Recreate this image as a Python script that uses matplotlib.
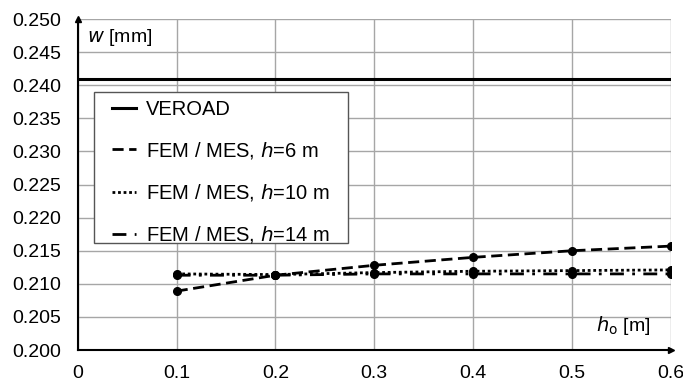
import matplotlib
matplotlib.use("Agg")
import matplotlib.pyplot as plt
from matplotlib.patches import Rectangle

plt.rcParams['font.family'] = ['Liberation Sans', 'DejaVu Sans']

h0 = [0.1, 0.2, 0.3, 0.4, 0.5, 0.6]
veroad = 0.241
fem_h6 = [0.2089, 0.2113, 0.2128, 0.2140, 0.2150, 0.2157]
fem_h10 = [0.2115, 0.2114, 0.2117, 0.2119, 0.2120, 0.2121]
fem_h14 = [0.2113, 0.2113, 0.2115, 0.2115, 0.2115, 0.2115]

FS = 14

fig = plt.figure(figsize=(6.83, 3.87), dpi=100)
ax = fig.add_axes([0.114, 0.0956, 0.868, 0.855])

ax.axhline(veroad, color='black', lw=2.2, label='VEROAD')
ax.plot(h0, fem_h6, color='black', lw=2, ls=(0, (4, 2)), marker='o', ms=5.5,
        label='FEM / MES, $\\mathit{h}$=6 m')
ax.plot(h0, fem_h10, color='black', lw=2, ls=(0, (1, 1)), marker='o', ms=5.5,
        label='FEM / MES, $\\mathit{h}$=10 m')
ax.plot(h0, fem_h14, color='black', lw=2, ls=(0, (5, 3, 1, 3)), marker='o', ms=5.5,
        label='FEM / MES, $\\mathit{h}$=14 m')

ax.set_xlim(0, 0.6)
ax.set_ylim(0.200, 0.250)
ax.set_xticks([0, 0.1, 0.2, 0.3, 0.4, 0.5, 0.6])
ax.set_xticklabels(['0', '0.1', '0.2', '0.3', '0.4', '0.5', '0.6'])
ax.set_yticks([0.200 + 0.005 * i for i in range(11)])
ax.set_yticklabels(['%.3f' % (0.200 + 0.005 * i) for i in range(11)])
ax.tick_params(labelsize=FS, length=0)
ax.tick_params(axis='x', pad=11)
ax.tick_params(axis='y', pad=12)
ax.grid(True, color='#a6a6a6', lw=1)
ax.set_axisbelow(True)
for s in ['top', 'right']:
    ax.spines[s].set_visible(False)
for s in ['left', 'bottom']:
    ax.spines[s].set_linewidth(1.5)

# axis arrows
ax.plot(1, 0, '>k', ms=5, transform=ax.transAxes, clip_on=False)
ax.plot(0, 1, '^k', ms=5, transform=ax.transAxes, clip_on=False)

ax.text(0.016, 0.975, '$\\mathit{w}$ [mm]', transform=ax.transAxes,
        fontsize=FS, va='top', ha='left')
ax.text(0.965, 0.04, '$\\mathit{h}_{\\mathrm{o}}$ [m]', transform=ax.transAxes,
        fontsize=FS, va='bottom', ha='right')

# legend box drawn separately so it can be wider than the text
ax.add_patch(Rectangle((0.027, 0.323), 0.428, 0.456, transform=ax.transAxes,
                       facecolor='white', edgecolor='#555555', lw=1, zorder=4))
leg = ax.legend(loc='upper left', bbox_to_anchor=(0.057, 0.756), fontsize=14.5,
                frameon=False, borderaxespad=0, borderpad=0,
                handlelength=1.2, handletextpad=0.5, labelspacing=1.05)
leg.set_zorder(5)
for line in leg.get_lines():
    line.set_marker('')

fig.savefig('out.png', dpi=100)
